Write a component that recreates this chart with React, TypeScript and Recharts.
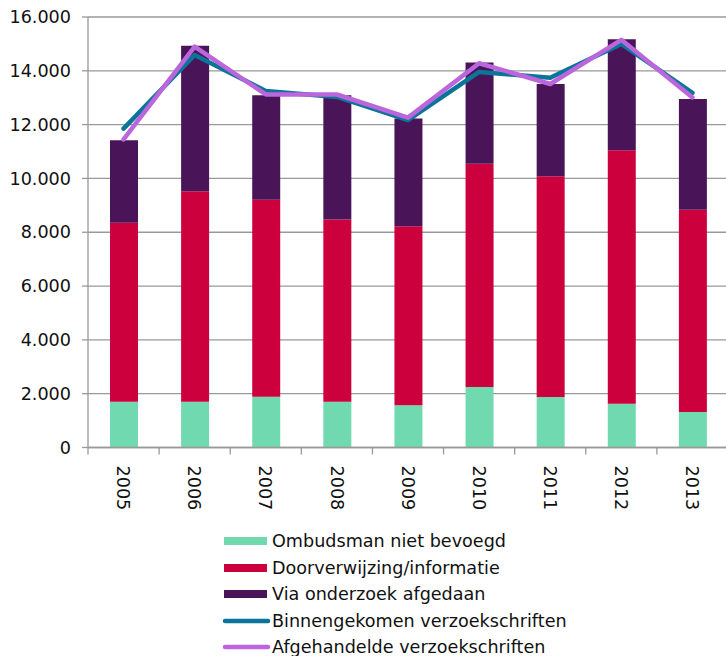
import React from 'react';
import {
  ComposedChart,
  Bar,
  Line,
  XAxis,
  YAxis,
  CartesianGrid,
  Legend,
} from 'recharts';

const years = ['2005', '2006', '2007', '2008', '2009', '2010', '2011', '2012', '2013'];
const nietBevoegd = [1700, 1700, 1890, 1700, 1570, 2250, 1880, 1630, 1320];
const doorverwijzing = [6650, 7820, 7320, 6770, 6650, 8300, 8200, 9420, 7520];
const onderzoek = [3070, 5410, 3880, 4620, 4010, 3760, 3430, 4120, 4110];
const binnengekomen = [11850, 14590, 13250, 13030, 12170, 13960, 13740, 15000, 13180];
const afgehandeld = [11450, 14900, 13120, 13120, 12260, 14280, 13510, 15150, 13010];
const yTicks = [0, 2000, 4000, 6000, 8000, 10000, 12000, 14000, 16000];

const C_GREEN = '#70D9AF';
const C_RED = '#CC003D';
const C_PURPLE = '#4A1558';
const C_TEAL = '#0B7599';
const C_LILAC = '#BB66DD';

const FONT = '"DejaVu Sans", Verdana, sans-serif';
const FS = 17.6;

const data = years.map((y, i) => ({
  year: y,
  nietBevoegd: nietBevoegd[i],
  doorverwijzing: doorverwijzing[i],
  onderzoek: onderzoek[i],
  binnengekomen: binnengekomen[i],
  afgehandeld: afgehandeld[i],
}));

const fmt = (v: number) => String(v).replace(/\B(?=(\d{3})+(?!\d))/g, '.');

const XTick = (props: any) => {
  const { x, y, payload } = props;
  const off = payload && payload.offset ? payload.offset : 35.5;
  return (
    <g>
      <line x1={x - off} x2={x - off} y1={y - 8} y2={y - 1} stroke="#999" strokeWidth={1.3} />
      <text
        transform={`translate(${x},${y}) rotate(90)`}
        x={10}
        y={0}
        dy="0.36em"
        textAnchor="start"
        fontSize={FS}
        fontFamily={FONT}
        fill="#111"
      >
        {payload.value}
      </text>
    </g>
  );
};

const legendItems = [
  { label: 'Ombudsman niet bevoegd', color: C_GREEN, type: 'bar' },
  { label: 'Doorverwijzing/informatie', color: C_RED, type: 'bar' },
  { label: 'Via onderzoek afgedaan', color: C_PURPLE, type: 'bar' },
  { label: 'Binnengekomen verzoekschriften', color: C_TEAL, type: 'line' },
  { label: 'Afgehandelde verzoekschriften', color: C_LILAC, type: 'line' },
];

const renderLegend = () => (
  <div style={{ fontFamily: FONT, fontSize: FS, color: '#111' }}>
    {legendItems.map((it) => (
      <div key={it.label} style={{ height: 26.5, display: 'flex', alignItems: 'center' }}>
        <svg width={50} height={12} style={{ display: 'block' }}>
          {it.type === 'bar' ? (
            <rect x={2} y={2} width={43} height={8} fill={it.color} />
          ) : (
            <line x1={3} x2={46} y1={6} y2={6} stroke={it.color} strokeWidth={4.5} strokeLinecap="round" />
          )}
        </svg>
        <span style={{ whiteSpace: 'nowrap' }}>{it.label}</span>
      </div>
    ))}
  </div>
);

export default function App() {
  return (
    <div
      style={{
        position: 'absolute',
        left: 0,
        top: 0,
        width: 726,
        height: 656,
        overflow: 'hidden',
        background: '#fff',
        fontFamily: FONT,
      }}
    >
      <ComposedChart
        width={740}
        height={656}
        data={data}
        margin={{ top: 17, right: 12, left: 0, bottom: 0 }}
      >
        <CartesianGrid vertical={false} stroke="#999" strokeWidth={1.3} />
        <XAxis
          dataKey="year"
          height={75.5}
          tick={<XTick />}
          tickLine={false}
          axisLine={{ stroke: '#999', strokeWidth: 1.3 }}
          interval={0}
        />
        <YAxis
          width={88}
          domain={[0, 16000]}
          ticks={yTicks}
          tickFormatter={fmt}
          tickSize={6}
          tickMargin={11}
          tickLine={{ stroke: '#999', strokeWidth: 1.3 }}
          axisLine={{ stroke: '#999', strokeWidth: 1.3 }}
          tick={{ fontSize: FS, fill: '#111', fontFamily: FONT }}
          interval={0}
        />
        <Legend
          verticalAlign="bottom"
          height={130}
          content={renderLegend}
          wrapperStyle={{ left: 222, top: 528, bottom: 'auto', width: 440, height: 133 }}
        />
        <Bar dataKey="nietBevoegd" name="Ombudsman niet bevoegd" stackId="a" fill={C_GREEN} barSize={28} isAnimationActive={false} />
        <Bar dataKey="doorverwijzing" name="Doorverwijzing/informatie" stackId="a" fill={C_RED} barSize={28} isAnimationActive={false} />
        <Bar dataKey="onderzoek" name="Via onderzoek afgedaan" stackId="a" fill={C_PURPLE} barSize={28} isAnimationActive={false} />
        <Line
          type="linear"
          dataKey="binnengekomen"
          name="Binnengekomen verzoekschriften"
          stroke={C_TEAL}
          strokeWidth={4.5}
          dot={false}
          activeDot={false}
          strokeLinejoin="round"
          strokeLinecap="round"
          isAnimationActive={false}
        />
        <Line
          type="linear"
          dataKey="afgehandeld"
          name="Afgehandelde verzoekschriften"
          stroke={C_LILAC}
          strokeWidth={4.5}
          dot={false}
          activeDot={false}
          strokeLinejoin="round"
          strokeLinecap="round"
          isAnimationActive={false}
        />
      </ComposedChart>
    </div>
  );
}
